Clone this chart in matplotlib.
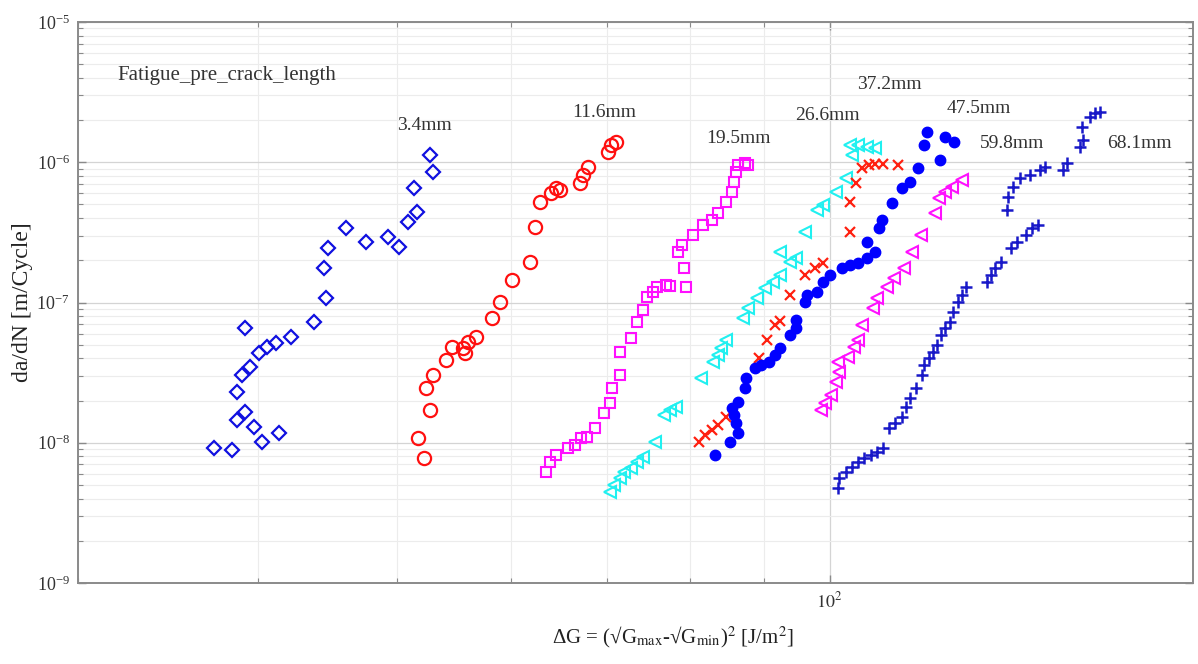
import numpy as np
import matplotlib
matplotlib.use("Agg")
import matplotlib.pyplot as plt
from matplotlib.ticker import LogLocator, NullFormatter, FixedLocator, FixedFormatter

# ---------------- data ----------------
x_34 = [37.3, 38.4, 38.7, 39.2, 39.8, 40.3, 41.4, 38.7, 39.0, 39.5, 40.1, 40.6, 41.2, 42.2,
        39.2, 43.8, 44.6, 44.5, 44.8, 46.1, 47.6, 49.3, 50.2, 50.9, 51.6, 51.4, 52.7, 53.0]
y_34 = [9.13e-9, 8.88e-9, 1.453e-8, 1.665e-8, 1.301e-8, 1.018e-8, 1.168e-8, 2.31e-8, 3.04e-8,
        3.48e-8, 4.34e-8, 4.84e-8, 5.12e-8, 5.70e-8, 6.55e-8, 7.30e-8, 1.071e-7, 1.753e-7,
        2.435e-7, 3.38e-7, 2.71e-7, 2.945e-7, 2.50e-7, 3.77e-7, 4.44e-7, 6.52e-7, 1.126e-6, 8.56e-7]

x_116 = [51.7, 52.2, 52.7, 52.4, 53.0, 54.1, 54.6, 55.6, 55.75, 56.05, 56.8, 58.2, 58.95, 60.1,
         61.85, 62.35, 62.85, 64.0, 64.5, 64.9, 67.0, 67.4, 67.9, 70.1, 70.5, 71.05]
y_116 = [1.076e-8, 7.74e-9, 1.712e-8, 2.44e-8, 3.04e-8, 3.89e-8, 4.84e-8, 4.71e-8, 4.34e-8,
         5.25e-8, 5.70e-8, 7.72e-8, 1.013e-7, 1.446e-7, 1.953e-7, 3.47e-7, 5.23e-7, 6.01e-7,
         6.52e-7, 6.34e-7, 7.08e-7, 8.11e-7, 9.30e-7, 1.189e-6, 1.327e-6, 1.401e-6]

x_195 = [63.5, 63.9, 64.5, 65.8, 66.5, 67.15, 67.8, 68.7, 69.65, 70.35, 70.6, 71.5, 71.5, 72.7,
         73.4, 74.2, 74.65, 75.4, 75.9, 76.9, 77.45, 79.5, 79.25, 78.5, 79.0, 80.3, 81.7, 82.8,
         83.6, 84.7, 85.5, 85.8, 86.1, 86.4, 87.3, 87.8]
y_195 = [6.22e-9, 7.32e-9, 8.18e-9, 9.13e-9, 9.64e-9, 1.076e-8, 1.104e-8, 1.268e-8, 1.622e-8,
         1.911e-8, 2.44e-8, 3.04e-8, 4.46e-8, 5.55e-8, 7.30e-8, 8.84e-8, 1.100e-7, 1.194e-7,
         1.296e-7, 1.333e-7, 1.318e-7, 1.296e-7, 1.753e-7, 2.30e-7, 2.57e-7, 3.03e-7, 3.57e-7,
         3.875e-7, 4.33e-7, 5.23e-7, 6.17e-7, 7.27e-7, 8.56e-7, 9.56e-7, 9.83e-7, 9.56e-7]

x_266 = [70.35, 70.8, 71.5, 72.0, 72.7, 73.4, 74.2, 75.65, 76.7, 77.45, 78.2, 81.4, 83.0, 83.6,
         84.1, 84.7, 87.0, 87.8, 89.0, 90.2, 91.4, 92.3, 93.85, 94.8, 92.3, 96.1, 98.0, 99.0,
         101.0, 102.65, 103.7, 103.3, 104.7, 106.1, 107.5]
y_266 = [4.48e-9, 5.00e-9, 5.58e-9, 6.22e-9, 6.57e-9, 7.32e-9, 7.95e-9, 1.018e-8, 1.577e-8,
         1.712e-8, 1.807e-8, 2.88e-8, 3.78e-8, 4.22e-8, 4.71e-8, 5.40e-8, 7.72e-8, 9.09e-8,
         1.071e-7, 1.262e-7, 1.407e-7, 1.571e-7, 1.953e-7, 2.065e-7, 2.30e-7, 3.20e-7, 4.565e-7,
         4.96e-7, 6.17e-7, 7.68e-7, 1.126e-6, 1.327e-6, 1.327e-6, 1.291e-6, 1.258e-6]

x_372 = [81.1, 81.9, 82.8, 83.6, 84.7, 89.3, 90.5, 91.7, 92.3, 93.85, 96.1, 97.7, 99.0, 103.3,
         103.3, 104.35, 105.4, 106.5, 107.5, 109.0, 111.5]
y_372 = [1.018e-8, 1.136e-8, 1.233e-8, 1.338e-8, 1.533e-8, 4.00e-8, 5.40e-8, 6.91e-8, 7.4e-8,
         1.131e-7, 1.571e-7, 1.753e-7, 1.903e-7, 3.20e-7, 5.23e-7, 7.08e-7, 9.05e-7, 9.56e-7,
         9.67e-7, 9.67e-7, 9.56e-7]

x_475 = [83.3, 85.3, 86.4, 86.1, 85.8, 85.5, 86.4, 87.3, 87.5, 88.7, 89.6, 90.8, 91.7, 92.3,
         93.85, 94.8, 94.8, 96.1, 96.4, 98.0, 99.0, 100.0, 102.0, 103.3, 104.7, 106.1, 107.6,
         106.2, 108.2, 108.8, 110.5, 112.3, 113.8, 115.3, 119.4, 116.3, 116.9, 120.4, 122.0]
y_475 = [8.18e-9, 1.018e-8, 1.168e-8, 1.376e-8, 1.577e-8, 1.761e-8, 1.962e-8, 2.44e-8, 2.88e-8,
         3.40e-8, 3.58e-8, 3.78e-8, 4.22e-8, 4.71e-8, 5.86e-8, 6.55e-8, 7.50e-8, 1.013e-7,
         1.131e-7, 1.194e-7, 1.407e-7, 1.571e-7, 1.753e-7, 1.851e-7, 1.903e-7, 2.065e-7,
         2.30e-7, 2.71e-7, 3.38e-7, 3.875e-7, 5.10e-7, 6.52e-7, 7.27e-7, 9.05e-7, 1.038e-6,
         1.327e-6, 1.651e-6, 1.506e-6, 1.401e-6]

x_598 = [98.65, 99.3, 100.3, 101.0, 101.6, 101.3, 103.0, 104.0, 104.7, 105.4, 107.2, 107.9,
         109.7, 110.8, 112.6, 114.1, 115.7, 118.4, 119.2, 120.3, 121.6, 123.6]
y_598 = [1.712e-8, 1.911e-8, 2.19e-8, 2.72e-8, 3.21e-8, 3.78e-8, 4.11e-8, 4.84e-8, 5.40e-8,
         6.91e-8, 9.09e-8, 1.071e-7, 1.296e-7, 1.487e-7, 1.753e-7, 2.30e-7, 3.03e-7, 4.33e-7,
         5.53e-7, 6.17e-7, 6.69e-7, 7.47e-7]

x_681a = [101.3, 101.6, 102.65, 103.7, 104.7, 105.7, 106.8, 107.9, 109.0, 110.0, 111.1, 112.3,
          113.0, 113.8, 114.9, 116.0, 116.4, 117.2, 118.0, 118.8, 119.6, 120.3, 121.2, 121.9,
          122.8, 123.6, 124.4, 128.6, 129.5, 130.3, 131.6, 133.8, 135.1, 136.9, 138.3, 139.7]
y_681a = [4.73e-9, 5.58e-9, 6.22e-9, 6.75e-9, 7.32e-9, 7.74e-9, 8.18e-9, 8.63e-9, 9.13e-9,
          1.268e-8, 1.376e-8, 1.533e-8, 1.807e-8, 2.07e-8, 2.44e-8, 3.04e-8, 3.58e-8, 4.00e-8,
          4.46e-8, 4.98e-8, 5.86e-8, 6.55e-8, 7.30e-8, 8.60e-8, 1.013e-7, 1.131e-7, 1.296e-7,
          1.407e-7, 1.571e-7, 1.753e-7, 1.953e-7, 2.435e-7, 2.71e-7, 3.03e-7, 3.38e-7, 3.57e-7]

x_681b = [132.8, 133.1, 134.2, 135.7, 137.9, 140.1, 141.2, 145.4, 146.3, 149.4, 150.1, 149.8,
          151.7, 152.9, 154.2]
y_681b = [4.565e-7, 5.65e-7, 6.66e-7, 7.72e-7, 8.11e-7, 8.81e-7, 9.25e-7, 8.81e-7, 9.88e-7,
          1.284e-6, 1.441e-6, 1.784e-6, 2.10e-6, 2.245e-6, 2.28e-6]

labels = ["3.4mm", "11.6mm", "19.5mm", "26.6mm", "37.2mm", "47.5mm", "59.8mm", "68.1mm"]
x_tick_vals = [100]
x_tick_text = [r"$10^{2}$"]

# ---------------- style ----------------
plt.rcParams["font.family"] = ["Liberation Serif", "DejaVu Serif"]
plt.rcParams["mathtext.fontset"] = "stix"

fig = plt.figure(figsize=(11.98, 6.64), dpi=100)
ax = fig.add_axes([78 / 1198, 81 / 664, 1115 / 1198, 561 / 664])

mfc = "none"
ax.plot(x_34, y_34, ls="none", marker="D", ms=7.5, mfc=mfc, mec="#1010e0", mew=1.6)
ax.plot(x_116, y_116, ls="none", marker="o", ms=9.5, mfc=mfc, mec="#ff1010", mew=1.6)
ax.plot(x_195, y_195, ls="none", marker="s", ms=7.5, mfc=mfc, mec="#ff10ff", mew=1.5)
ax.plot(x_266, y_266, ls="none", marker="<", ms=8.5, mfc=mfc, mec="#20f0f0", mew=1.5)
ax.plot(x_372, y_372, ls="none", marker="x", ms=7, mfc=mfc, mec="#ff2010", mew=1.6)
ax.plot(x_475, y_475, ls="none", marker="o", ms=7.5, mfc="#0000ff", mec="#0000ff", mew=1)
ax.plot(x_598, y_598, ls="none", marker="<", ms=8.5, mfc=mfc, mec="#ff10ff", mew=1.5)
ax.plot(x_681a, y_681a, ls="none", marker="+", ms=9, mfc=mfc, mec="#1818c8", mew=1.8)
ax.plot(x_681b, y_681b, ls="none", marker="+", ms=9, mfc=mfc, mec="#1818c8", mew=1.8)

ax.set_xscale("log")
ax.set_yscale("log")
ax.set_xlim(30, 179)
ax.set_ylim(1e-9, 1e-5)

ax.xaxis.set_major_locator(FixedLocator(x_tick_vals))
ax.xaxis.set_major_formatter(FixedFormatter(x_tick_text))
ax.xaxis.set_minor_locator(LogLocator(base=10, subs=np.arange(2, 10)))
ax.xaxis.set_minor_formatter(NullFormatter())
ax.yaxis.set_major_locator(LogLocator(base=10, numticks=10))
ax.yaxis.set_minor_locator(LogLocator(base=10, subs=np.arange(2, 10), numticks=20))
ax.yaxis.set_minor_formatter(NullFormatter())

ax.grid(True, which="major", color="#d4d4d4", lw=0.9)
ax.grid(True, which="minor", color="#ececec", lw=0.8)
ax.set_axisbelow(True)

for s in ax.spines.values():
    s.set_color("#8a8a8a")
    s.set_linewidth(1.4)
ax.tick_params(which="both", direction="in", top=True, right=True, color="#8a8a8a")
ax.tick_params(which="major", length=6, width=1.0, labelsize=13, labelcolor="#333333", pad=6)
ax.tick_params(which="minor", length=3.5, width=0.8)

ax.set_xlabel(r"ΔG = (√G$_{\rm max}$-√G$_{\rm min}$)$^{2}$ [J/m$^{2}$]", fontsize=15,
              color="#222222")
ax.xaxis.set_label_coords(0.5335, -0.074)
ax.xaxis.label.set_va("top")
ax.set_ylabel("da/dN [m/Cycle]", fontsize=17, color="#222222")
ax.yaxis.set_label_coords(-0.04, 0.5)

txt_kw = dict(transform=ax.transAxes, ha="left", va="center", fontsize=14, color="#333333")
ax.text(0.035, 0.904, "Fatigue_pre_crack_length", **dict(txt_kw, fontsize=15))
label_pos = [(0.286, 0.816), (0.443, 0.838), (0.563, 0.793), (0.643, 0.834),
             (0.699, 0.888), (0.779, 0.845), (0.809, 0.784), (0.923, 0.784)]
for lab, (px, py) in zip(labels, label_pos):
    ax.text(px, py, lab, **txt_kw)

fig.savefig("out.png", dpi=100)
